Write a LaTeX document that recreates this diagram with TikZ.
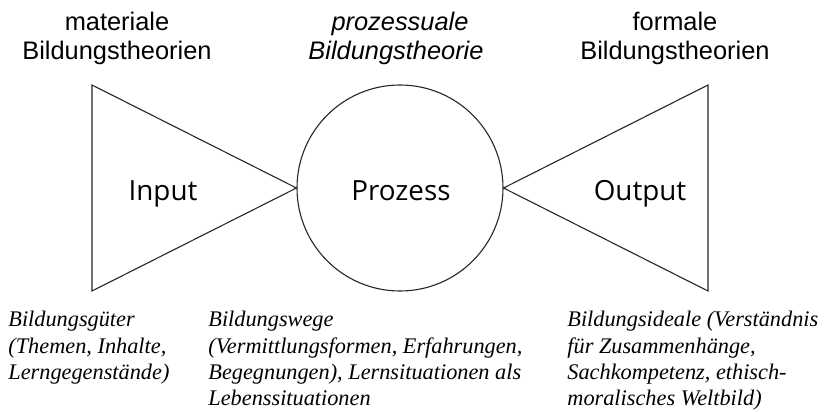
\documentclass[tikz,border=0pt]{standalone}
\usepackage{fontspec}
\setmainfont{Liberation Serif}
\newfontfamily\labelfont{Liberation Sans}
\newfontfamily\shapefont{Open Sans}
\tikzset{
  outline/.style={draw=black!85, line width=0.55pt},
  toplabel/.style={font=\labelfont\fontsize{12.7}{14}\selectfont, inner sep=0pt, anchor=base},
  shapelabel/.style={font=\shapefont\fontsize{13.9}{16}\selectfont, inner sep=0pt, anchor=base},
  desc/.style={font=\itshape\fontsize{11.15}{13.1}\selectfont, inner sep=0pt, align=left, anchor=north west},
}
\begin{document}
\begin{tikzpicture}[x=0.5pt,y=-0.5pt]
\useasboundingbox (0,0) rectangle (826,412);
% top labels
\node[toplabel] (mat1) at (117,31) {materiale};
\node[toplabel] (mat2) at (117,59) {Bildungstheorien};
\node[toplabel, font=\labelfont\itshape\fontsize{12.7}{14}\selectfont] (pro1) at (400,31) {prozessuale};
\node[toplabel, font=\labelfont\itshape\fontsize{12.7}{14}\selectfont] (pro2) at (396,59) {Bildungstheorie};
\node[toplabel] (for1) at (675,31) {formale};
\node[toplabel] (for2) at (675,59) {Bildungstheorien};
% shapes
\node[outline, circle, minimum size=103pt, inner sep=0pt] (proz) at (400,188) {};
\coordinate (lt) at (92,85);
\coordinate (lb) at (92,291);
\coordinate (rt) at (708,85);
\coordinate (rb) at (708,291);
\draw[outline, line join=miter] (lt) -- (proz.west) -- (lb) -- cycle;
\draw[outline, line join=miter] (rt) -- (proz.east) -- (rb) -- cycle;
\node[shapelabel] (input) at (163,200) {Input};
\node[shapelabel] (prozt) at (401,200) {Prozess};
\node[shapelabel] (output) at (640,200) {Output};
% descriptions
\node[desc] (d1) at (8,311) {Bildungsgüter\\(Themen, Inhalte,\\Lerngegenstände)};
\node[desc] (d2) at (208,311) {Bildungswege\\(Vermittlungsformen, Erfahrungen,\\Begegnungen), Lernsituationen als\\Lebenssituationen};
\node[desc] (d3) at (567,311) {Bildungsideale (Verständnis\\für Zusammenhänge,\\Sachkompetenz, ethisch-\\moralisches Weltbild)};
\end{tikzpicture}
\end{document}
